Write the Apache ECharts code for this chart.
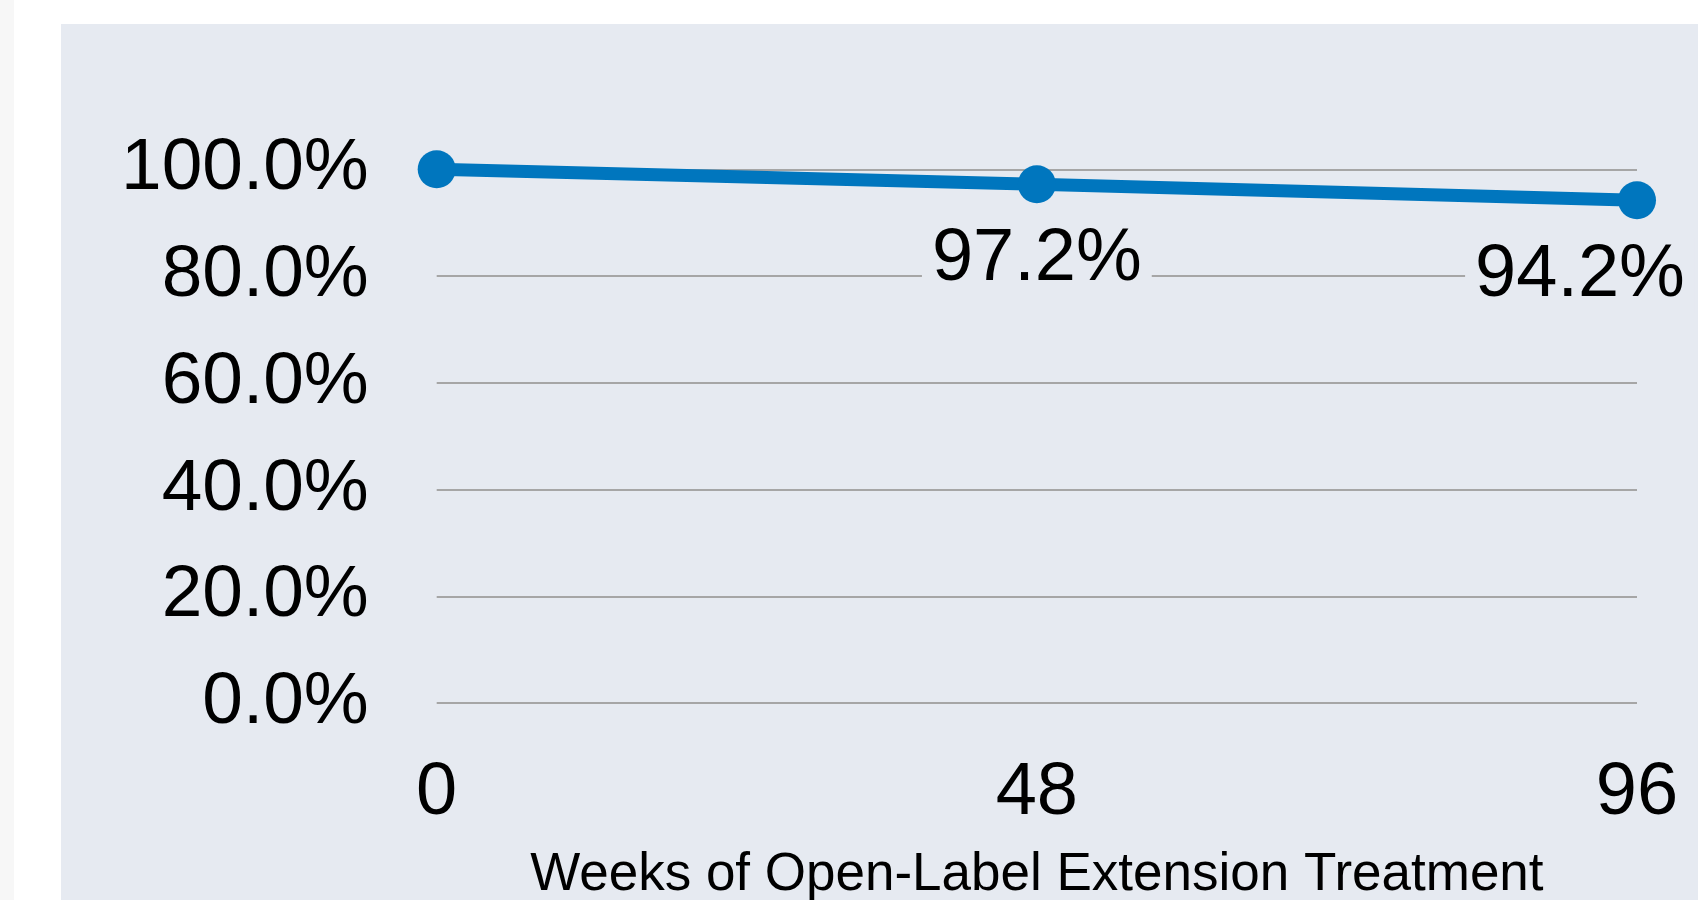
<!DOCTYPE html>
<html>
<head>
<meta charset="utf-8">
<script src="https://cdn.jsdelivr.net/npm/echarts@6/dist/echarts.min.js"></script>
<style>
html,body{margin:0;padding:0;background:#fff;}
#chart{width:1698px;height:900px;}
</style>
</head>
<body>
<div id="chart"></div>
<script>
const weeks = ['0', '48', '96'];
const retention = [100, 97.2, 94.2];
const showLabel = [false, true, true];
const yTicks = [0, 20, 40, 60, 80, 100];
const xAxisTitle = 'Weeks of Open-Label Extension Treatment';

const FONT = '"Liberation Sans", Arial, sans-serif';
const chart = echarts.init(document.getElementById('chart'));

const seriesData = retention.map((v, i) => ({
  value: v,
  label: {
    show: showLabel[i],
    offset: i === retention.length - 1 ? [-57, 0] : [0, 0]
  }
}));

chart.setOption({
  backgroundColor: '#ffffff',
  animation: false,
  graphic: [
    { type: 'rect', left: 0, top: 0, shape: { width: 14, height: 900 }, style: { fill: '#f7f7f7' }, z: -10 },
    { type: 'rect', left: 61, top: 24, shape: { width: 1637, height: 876 }, style: { fill: '#e6eaf1' }, z: -10 }
  ],
  grid: { left: 436.7, right: 61, top: 169.25, bottom: 197, containLabel: false, outerBoundsMode: 'none' },
  xAxis: {
    type: 'category',
    data: weeks,
    boundaryGap: false,
    axisLine: { show: false },
    axisTick: { show: false },
    axisLabel: { color: '#000', fontSize: 74, fontFamily: FONT, margin: 54 },
    name: xAxisTitle,
    nameLocation: 'middle',
    nameGap: 146,
    nameTextStyle: { color: '#000', fontSize: 53, fontFamily: FONT }
  },
  yAxis: {
    type: 'value',
    min: yTicks[0],
    max: yTicks[yTicks.length - 1],
    interval: yTicks[1] - yTicks[0],
    axisLine: { show: false },
    axisTick: { show: false },
    splitLine: { lineStyle: { color: '#a6a6a6', width: 2 } },
    axisLabel: {
      color: '#000', fontSize: 73, fontFamily: FONT, margin: 68,
      formatter: v => v.toFixed(1) + '%'
    }
  },
  series: [{
    type: 'line',
    data: seriesData,
    symbol: 'circle',
    symbolSize: 38,
    lineStyle: { color: '#0076be', width: 13 },
    itemStyle: { color: '#0076be' },
    label: {
      position: 'bottom',
      distance: 19,
      color: '#000',
      fontSize: 74,
      fontFamily: FONT,
      backgroundColor: '#e6eaf1',
      padding: [0, 10],
      formatter: p => p.value.toFixed(1) + '%'
    }
  }]
});
</script>
</body>
</html>
